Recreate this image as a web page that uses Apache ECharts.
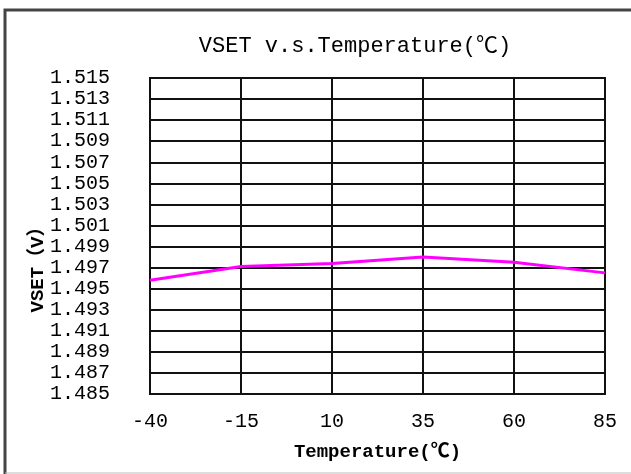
<!DOCTYPE html>
<html>
<head>
<meta charset="utf-8">
<script src="https://cdn.jsdelivr.net/npm/echarts@6/dist/echarts.min.js"></script>
<style>
  html, body { margin: 0; padding: 0; background: #fff; }
  #chart { width: 631px; height: 474px; }
</style>
</head>
<body>
<div id="chart"></div>
<script>
var temperatures = ['-40', '-15', '10', '35', '60', '85'];
var vset = [1.4958, 1.4971, 1.4974, 1.4980, 1.4975, 1.4965];
var yMin = 1.485, yMax = 1.515, yStep = 0.002;

var font = '"Liberation Mono", "DejaVu Sans Mono", "Noto Sans CJK SC", monospace';
var chart = echarts.init(document.getElementById('chart'));

chart.setOption({
    animation: false,
    backgroundColor: '#fff',
    title: {
        text: 'VSET v.s.Temperature(℃)',
        left: 350,
        top: 30,
        textAlign: 'center',
        textStyle: { fontFamily: font, fontSize: 22, fontWeight: 'normal', color: '#000' }
    },
    grid: {
        left: 150, top: 78, width: 455, height: 316,
        show: true, borderColor: '#111', borderWidth: 2
    },
    xAxis: {
        type: 'category',
        data: temperatures,
        boundaryGap: false,
        name: 'Temperature(℃)',
        nameLocation: 'middle',
        nameGap: 49,
        nameTextStyle: { fontFamily: font, fontSize: 19, fontWeight: 'bold', color: '#000' },
        axisLine: { lineStyle: { color: '#111', width: 2 } },
        axisTick: { show: false },
        axisLabel: { fontFamily: font, fontSize: 20, color: '#000', margin: 18 },
        splitLine: { show: true, lineStyle: { color: '#111', width: 2 } }
    },
    yAxis: {
        type: 'value',
        min: yMin,
        max: yMax,
        interval: yStep,
        axisLine: { show: true, lineStyle: { color: '#111', width: 2 } },
        axisTick: { show: false },
        axisLabel: {
            fontFamily: font, fontSize: 20, color: '#000', margin: 40,
            formatter: function (v) { return v.toFixed(3); }
        },
        splitLine: { show: true, lineStyle: { color: '#111', width: 2 } }
    },
    series: [{
        type: 'line',
        data: vset,
        symbol: 'none',
        lineStyle: { color: '#ff00ff', width: 3 }
    }],
    graphic: [
        {
            type: 'polyline',
            shape: { points: [[5, 474], [5, 10], [631, 10]] },
            style: { stroke: '#444', lineWidth: 3, fill: null }
        },
        {
            type: 'line',
            shape: { x1: 5, y1: 473, x2: 631, y2: 473 },
            style: { stroke: '#bbb', lineWidth: 1 }
        },
        {
            type: 'text',
            x: 38,
            y: 265,
            rotation: Math.PI / 2,
            style: {
                text: 'VSET（V）',
                font: 'bold 19px ' + font,
                fill: '#000',
                textAlign: 'center',
                textVerticalAlign: 'middle'
            }
        }
    ]
});
</script>
</body>
</html>
